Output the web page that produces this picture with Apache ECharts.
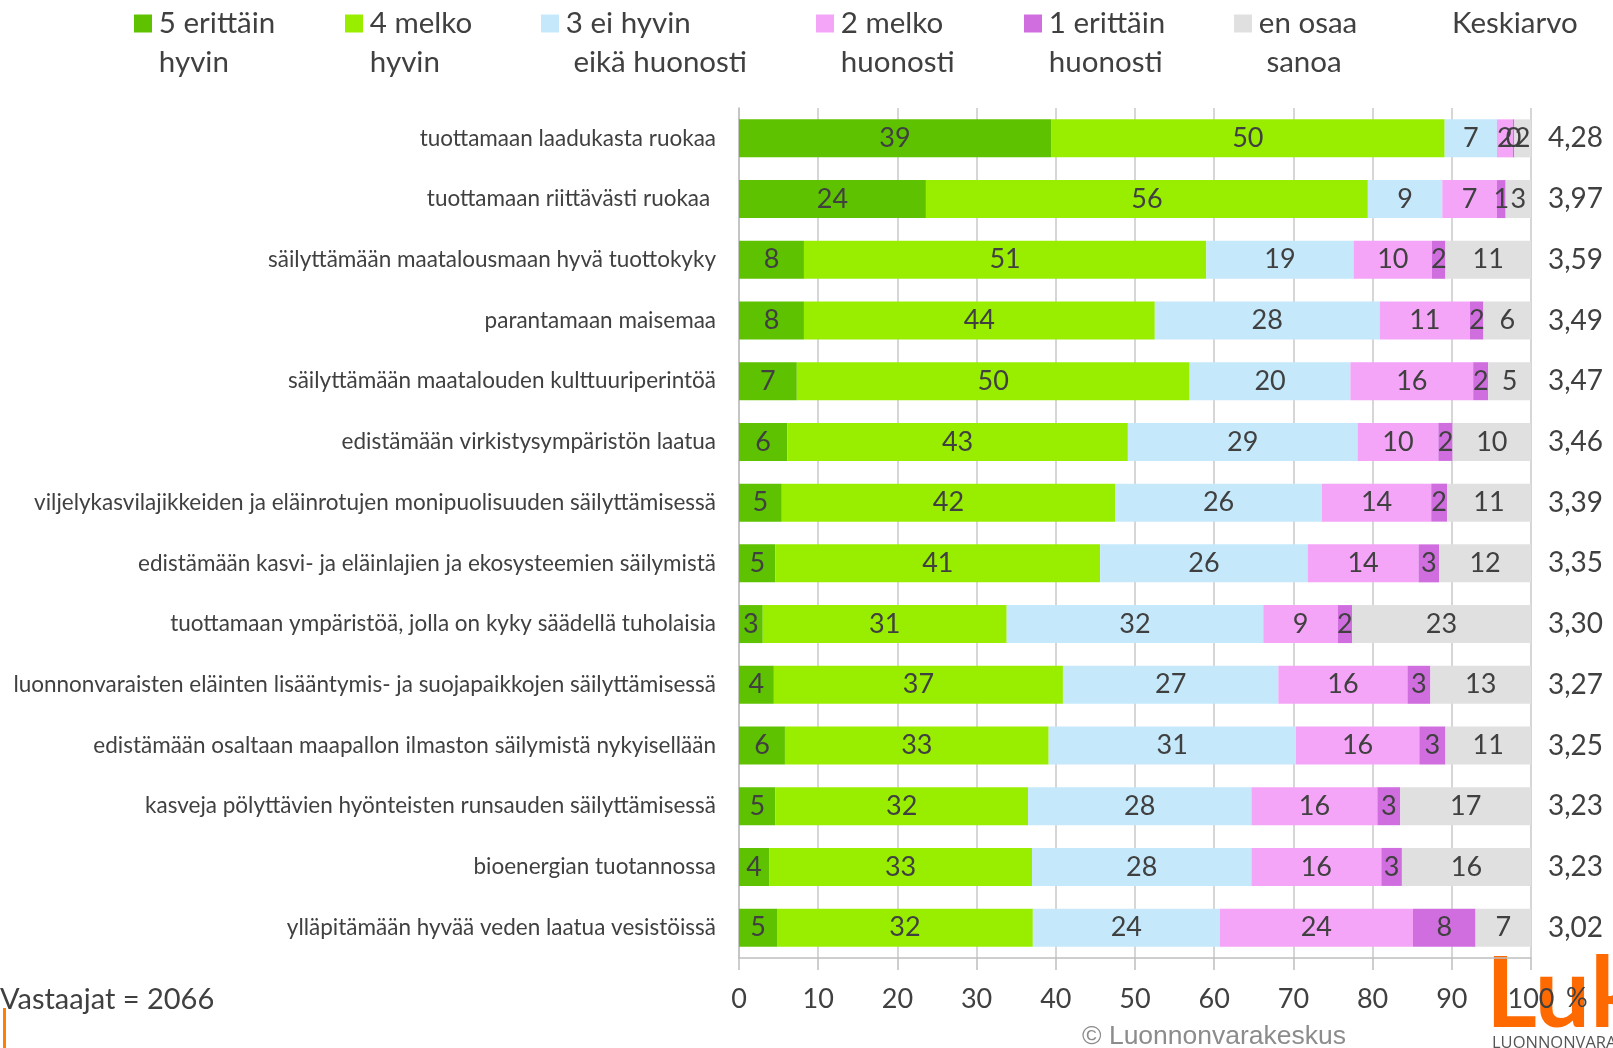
<!DOCTYPE html>
<html><head><meta charset="utf-8">
<script src="https://cdn.jsdelivr.net/npm/echarts@6/dist/echarts.min.js"></script>
<style>html,body{margin:0;padding:0;background:#fff}#c{width:1613px;height:1048px}</style>
</head><body><div id="c"></div>
<script>
const categories = [
  'tuottamaan laadukasta ruokaa',
  'tuottamaan riittävästi ruokaa ',
  'säilyttämään maatalousmaan hyvä tuottokyky',
  'parantamaan maisemaa',
  'säilyttämään maatalouden kulttuuriperintöä',
  'edistämään virkistysympäristön laatua',
  'viljelykasvilajikkeiden ja eläinrotujen monipuolisuuden säilyttämisessä',
  'edistämään kasvi- ja eläinlajien ja ekosysteemien säilymistä',
  'tuottamaan ympäristöä, jolla on kyky säädellä tuholaisia',
  'luonnonvaraisten eläinten lisääntymis- ja suojapaikkojen säilyttämisessä',
  'edistämään osaltaan maapallon ilmaston säilymistä nykyisellään',
  'kasveja pölyttävien hyönteisten runsauden säilyttämisessä',
  'bioenergian tuotannossa',
  'ylläpitämään hyvää veden laatua vesistöissä'
];
const v5 = [39.4, 23.6, 8.2, 8.2, 7.3, 6.1, 5.4, 4.6, 3.0, 4.4, 5.8, 4.6, 3.8, 4.8];
const v4 = [49.7, 55.8, 50.8, 44.3, 49.6, 43.0, 42.1, 41.0, 30.8, 36.5, 33.3, 31.9, 33.2, 32.3];
const v3 = [6.6, 9.4, 18.6, 28.4, 20.3, 29.0, 26.1, 26.2, 32.4, 27.2, 31.2, 28.2, 27.7, 23.6];
const v2 = [2.0, 6.9, 9.9, 11.4, 15.5, 10.2, 13.8, 14.0, 9.4, 16.3, 15.6, 15.9, 16.4, 24.4];
const v1 = [0.2, 1.1, 1.7, 1.7, 1.9, 1.8, 2.0, 2.6, 1.8, 2.9, 3.3, 2.9, 2.6, 7.9];
const v0 = [2.1, 3.2, 10.8, 6.0, 5.4, 9.9, 10.6, 11.6, 22.6, 12.7, 10.8, 16.5, 16.3, 7.0];
const means = ['4,28', '3,97', '3,59', '3,49', '3,47', '3,46', '3,39', '3,35', '3,30', '3,27', '3,25', '3,23', '3,23', '3,02'];
const seriesNames = ['5 erittäin\nhyvin', '4 melko\nhyvin', '3 ei hyvin\n eikä huonosti', '2 melko\nhuonosti', '1 erittäin\nhuonosti', 'en osaa\n sanoa'];
const colors = ['#5EC200', '#99EE00', '#C5E8FB', '#F4A5F8', '#D06EE0', '#E0E0E0'];
const values = [v5, v4, v3, v2, v1, v0];
const legendX = [134, 345, 541, 816, 1024, 1234];

const FONT = 'Lato, "Open Sans", sans-serif';
const TXT = '#404040';

const chart = echarts.init(document.getElementById('c'));
const series = seriesNames.map((n, i) => ({
  name: n, type: 'bar', stack: 'total', barWidth: 38,
  data: values[i],
  itemStyle: { color: colors[i] },
  label: { show: true, position: 'inside', formatter: p => Math.round(p.value),
    fontSize: 27, color: TXT, fontFamily: FONT },
  emphasis: { disabled: true }
}));

const legends = seriesNames.map((n, i) => ({
  data: [n], left: legendX[i], top: -35, padding: 0,
  itemWidth: 18, itemHeight: 18, icon: 'rect', selectedMode: false,
  formatter: name => '\n' + name.split('\n').map(s => '\u200A' + s).join('\n'),
  textStyle: { fontSize: 29.5, color: TXT, fontFamily: FONT, lineHeight: 39 }
}));

chart.setOption({
  animation: false,
  backgroundColor: '#fff',
  legend: legends,
  grid: { left: 739, right: 82, top: 108, bottom: 90, containLabel: false },
  xAxis: {
    type: 'value', min: 0, max: 100, interval: 10,
    axisLine: { show: true, lineStyle: { color: '#BFBFBF', width: 1.5 } },
    axisTick: { show: true, length: 12, lineStyle: { color: '#BFBFBF', width: 1.5 } },
    splitLine: { show: true, lineStyle: { color: '#C8C8C8', width: 1.5 } },
    axisLabel: { fontSize: 27, color: TXT, fontFamily: FONT, margin: 28 }
  },
  yAxis: [{
    type: 'category', inverse: true, data: categories,
    axisLine: { show: true, lineStyle: { color: '#BFBFBF', width: 1.5 } },
    axisTick: { show: false },
    axisLabel: { fontSize: 22.5, color: TXT, fontFamily: FONT, margin: 23 }
  }, {
    type: 'category', inverse: true, data: means, position: 'right',
    axisLine: { show: false }, axisTick: { show: false }, splitLine: { show: false },
    axisLabel: { fontSize: 28, color: TXT, fontFamily: FONT, margin: 17 }
  }],
  series: series,
  graphic: [
    { type: 'text', z: -10, x: 1486, y: 946, style: { text: 'Luke', fontSize: 98, fontWeight: 'bold', fill: '#FF6A00', fontFamily: 'Lato, sans-serif' } },
    { type: 'text', z: -10, x: 1492, y: 1035, style: { text: 'LUONNONVARAKESKUS', fontSize: 16.5, fill: '#555', fontFamily: '"Open Sans", sans-serif' } },
    { type: 'text', left: 1452, top: 8, style: { text: 'Keskiarvo', fontSize: 29.5, fill: TXT, fontFamily: FONT } },
    { type: 'text', z: 10, x: 1566, y: 998, style: { text: '%', fontSize: 27, fill: TXT, fontFamily: FONT, verticalAlign: 'middle' } },
    { type: 'text', left: 0, top: 985, style: { text: 'Vastaajat = 2066', fontSize: 29, fill: TXT, fontFamily: FONT } },
    { type: 'text', left: 1082, top: 1023, style: { text: '© Luonnonvarakeskus', fontSize: 26.5, fill: '#8C8C8C', fontFamily: '"Liberation Sans Narrow", "Liberation Sans", sans-serif' } },
    { type: 'rect', shape: { x: 3, y: 1008, width: 3, height: 40 }, style: { fill: '#FF8000' } }
  ]
});
</script></body></html>
